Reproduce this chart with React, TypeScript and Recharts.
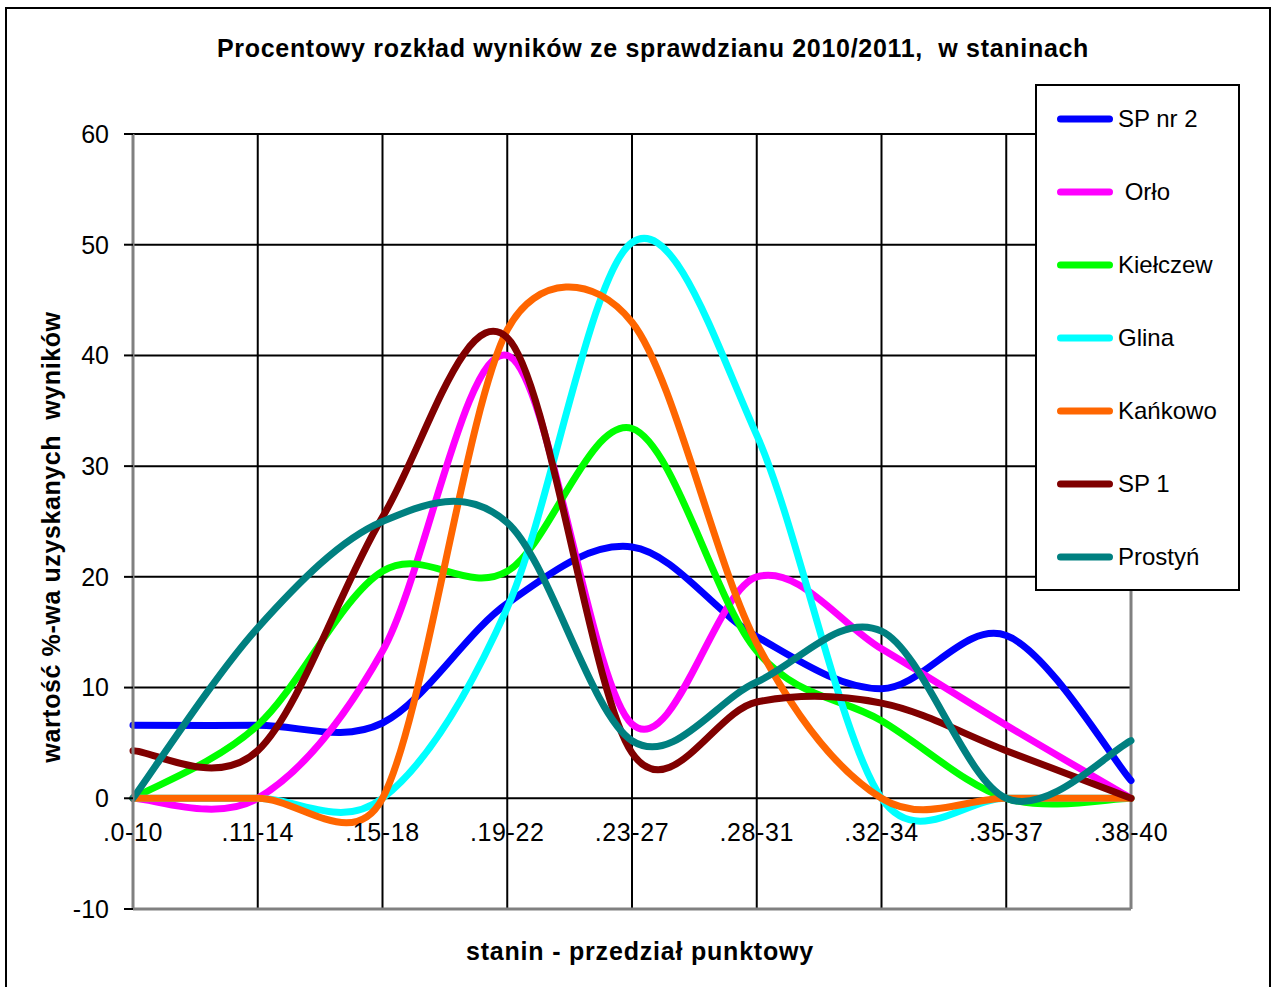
import React from 'react';
import { LineChart, Line, XAxis, YAxis, CartesianGrid, Legend, ReferenceLine } from 'recharts';

const categories = ['.0-10', '.11-14', '.15-18', '.19-22', '.23-27', '.28-31', '.32-34', '.35-37', '.38-40'];

const spNr2 = [6.6, 6.6, 6.8, 17.6, 22.7, 14.6, 9.9, 14.7, 1.6];
const orlo = [0, 0, 13.3, 40, 6.7, 20, 13.5, 6.6, 0];
const kielczew = [0, 6.6, 20.5, 20.5, 33.4, 13.3, 7.0, 0, 0];
const glina = [0, 0, 0, 17.2, 50.2, 32.8, 0, 0, 0];
const kankowo = [0, 0, 0, 42.3, 43.0, 14.0, 0, 0, 0];
const sp1 = [4.3, 4.3, 25.4, 41.6, 4.1, 8.7, 8.6, 4.3, 0];
const prostyn = [0, 15.4, 25.0, 24.9, 5.2, 10.5, 15.1, 0, 5.2];

const seriesNames = ['SP nr 2', ' Orło', 'Kiełczew', 'Glina', 'Kańkowo', 'SP 1', 'Prostyń'];
const seriesColors = ['#0000FF', '#FF00FF', '#00FF00', '#00FFFF', '#FF6600', '#800000', '#008080'];
const seriesValues = [spNr2, orlo, kielczew, glina, kankowo, sp1, prostyn];

const yTicks = [-10, 0, 10, 20, 30, 40, 50, 60];

const titleText = 'Procentowy rozkład wyników ze sprawdzianu 2010/2011,  w staninach';
const xTitle = 'stanin - przedział punktowy';
const yTitle = 'wartość %-wa uzyskanych  wyników';

const data = categories.map((c, i) => {
  const row: any = { cat: c };
  seriesValues.forEach((vals, k) => {
    row['s' + k] = vals[i];
  });
  return row;
});

const FONT = '"Liberation Sans", Arial, Helvetica, sans-serif';
const W = 1272;
const H = 987;
const PLOT_LEFT = 133;
const PLOT_TOP = 134;
const PLOT_RIGHT = 1131;
const PLOT_BOTTOM = 909;
const Y_MIN = -10;
const Y_MAX = 60;
const yZero = PLOT_TOP + ((PLOT_BOTTOM - PLOT_TOP) * (Y_MAX - 0)) / (Y_MAX - Y_MIN);

// Excel-like smoothed line (Bezier with 1/6 tension, limited by segment length)
function excelCurve(context: any) {
  let pts: number[][] = [];
  const dist = (a: number[], b: number[]) => Math.hypot(b[0] - a[0], b[1] - a[1]);
  return {
    areaStart() {},
    areaEnd() {},
    lineStart() {
      pts = [];
    },
    lineEnd() {
      const n = pts.length;
      if (n === 0) return;
      context.moveTo(pts[0][0], pts[0][1]);
      if (n === 1) return;
      for (let i = 0; i < n - 1; i++) {
        const p1 = pts[i];
        const p2 = pts[i + 1];
        const p0 = i > 0 ? pts[i - 1] : p1;
        const p3 = i + 2 < n ? pts[i + 2] : p2;
        const d12 = dist(p1, p2);
        const d02 = dist(p0, p2);
        const d13 = dist(p1, p3);
        let f1 = 1 / 6;
        let f2 = 1 / 6;
        if (d02 / 6 >= d12 / 2) f1 = d02 > 0 ? d12 / (2 * d02) : 0;
        if (d13 / 6 >= d12 / 2) f2 = d13 > 0 ? d12 / (2 * d13) : 0;
        const c1x = p1[0] + (p2[0] - p0[0]) * f1;
        const c1y = p1[1] + (p2[1] - p0[1]) * f1;
        const c2x = p2[0] - (p3[0] - p1[0]) * f2;
        const c2y = p2[1] - (p3[1] - p1[1]) * f2;
        context.bezierCurveTo(c1x, c1y, c2x, c2y, p2[0], p2[1]);
      }
    },
    point(x: number, y: number) {
      pts.push([+x, +y]);
    },
  };
}

const XTick = (props: any) => {
  const { x, payload } = props;
  return (
    <text
      x={x}
      y={yZero + 43}
      textAnchor="middle"
      fontSize={25}
      fontFamily={FONT}
      fill="#000"
      style={{ letterSpacing: '0.6px' }}
    >
      {payload.value}
    </text>
  );
};

const LegendBox = () => {
  return (
    <div
      style={{
        position: 'relative',
        width: 205,
        height: 507,
        border: '2px solid #000',
        boxSizing: 'border-box',
        background: '#fff',
        fontFamily: FONT,
      }}
    >
      {seriesNames.map((name, i) => (
        <div
          key={i}
          style={{
            position: 'absolute',
            left: 0,
            top: 33.3 + i * 72.9 - 16,
            height: 32,
            width: 200,
            display: 'flex',
            alignItems: 'center',
          }}
        >
          <svg width={80} height={32} style={{ display: 'block', flex: 'none' }}>
            <line x1={23.5} y1={16} x2={72.5} y2={16} stroke={seriesColors[i]} strokeWidth={7} strokeLinecap="round" />
          </svg>
          <span style={{ fontSize: 24, color: '#000', whiteSpace: 'pre', marginLeft: 1, lineHeight: '32px' }}>
            {name}
          </span>
        </div>
      ))}
    </div>
  );
};

export default function App() {
  return (
    <div style={{ position: 'absolute', left: 0, top: 0, width: W, height: H, background: '#fff', overflow: 'hidden' }}>
      <div
        style={{
          position: 'absolute',
          left: 5,
          top: 7,
          width: 1266,
          height: 995,
          border: '2px solid #000',
          boxSizing: 'border-box',
        }}
      />
      <div style={{ position: 'absolute', left: 0, top: 0 }}>
        <LineChart
          width={W}
          height={H}
          data={data}
          margin={{ top: PLOT_TOP, right: W - PLOT_RIGHT, bottom: H - PLOT_BOTTOM - 30, left: 0 }}
        >
          <CartesianGrid stroke="#000" strokeWidth={2} />
          <XAxis
            dataKey="cat"
            interval={0}
            height={30}
            axisLine={{ stroke: '#808080', strokeWidth: 3 }}
            tickLine={false}
            tick={<XTick />}
          />
          <YAxis
            width={PLOT_LEFT}
            domain={[Y_MIN, Y_MAX]}
            ticks={yTicks}
            interval={0}
            allowDataOverflow
            tickSize={9}
            tickMargin={15}
            axisLine={{ stroke: '#808080', strokeWidth: 3 }}
            tickLine={{ stroke: '#000', strokeWidth: 2 }}
            tick={{ fill: '#000', fontSize: 25, fontFamily: FONT }}
          />
          <ReferenceLine x={categories[categories.length - 1]} stroke="#808080" strokeWidth={3} />
          {seriesNames.map((name, k) => (
            <Line
              key={k}
              dataKey={'s' + k}
              name={name}
              stroke={seriesColors[k]}
              strokeWidth={7}
              strokeLinecap="round"
              dot={false}
              activeDot={false}
              type={excelCurve as any}
              isAnimationActive={false}
            />
          ))}
          <Legend
            layout="vertical"
            align="center"
            verticalAlign="middle"
            content={<LegendBox />}
            wrapperStyle={{ left: 1035, top: 84, width: 205, height: 507 }}
          />
        </LineChart>
      </div>
      <svg
        width={W}
        height={H}
        style={{ position: 'absolute', left: 0, top: 0, pointerEvents: 'none' }}
      >
        <text
          x={653}
          y={57}
          textAnchor="middle"
          fontSize={25}
          fontWeight="bold"
          fontFamily={FONT}
          fill="#000"
          style={{ letterSpacing: '0.7px', whiteSpace: 'pre' }}
          xmlSpace="preserve"
        >
          {titleText}
        </text>
        <text
          x={640}
          y={960}
          textAnchor="middle"
          fontSize={25}
          fontWeight="bold"
          fontFamily={FONT}
          fill="#000"
          style={{ letterSpacing: '0.8px' }}
        >
          {xTitle}
        </text>
        <text
          x={60}
          y={537}
          transform="rotate(-90 60 537)"
          textAnchor="middle"
          fontSize={25}
          fontWeight="bold"
          fontFamily={FONT}
          fill="#000"
          style={{ letterSpacing: '0.6px', whiteSpace: 'pre' }}
          xmlSpace="preserve"
        >
          {yTitle}
        </text>
      </svg>
    </div>
  );
}
